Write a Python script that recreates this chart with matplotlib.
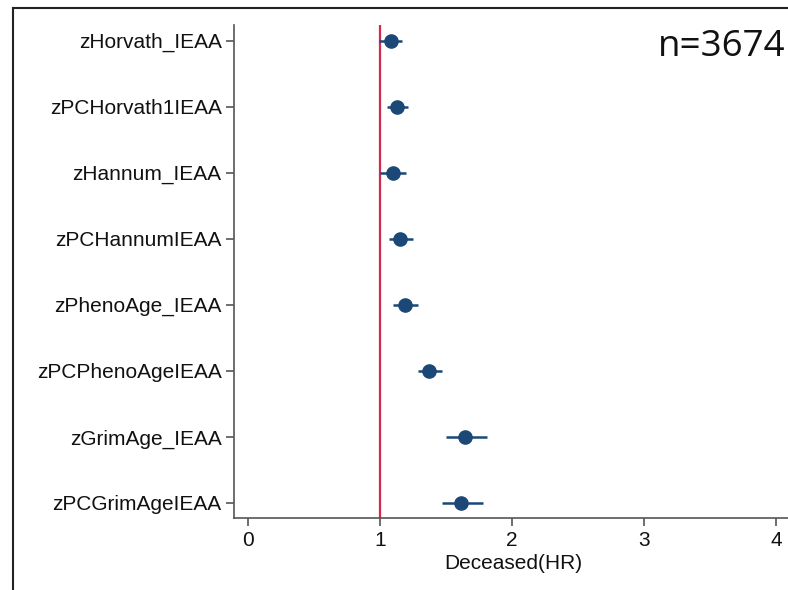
import matplotlib.pyplot as plt
from matplotlib.lines import Line2D

# hazard ratios per epigenetic clock (IEAA, z-scored)
labels = ['zHorvath_IEAA', 'zPCHorvath1IEAA', 'zHannum_IEAA', 'zPCHannumIEAA',
          'zPhenoAge_IEAA', 'zPCPhenoAgeIEAA', 'zGrimAge_IEAA', 'zPCGrimAgeIEAA']
hr = [1.08, 1.13, 1.10, 1.15, 1.19, 1.37, 1.64, 1.61]
ci_low = [0.99, 1.05, 1.00, 1.07, 1.10, 1.29, 1.50, 1.47]
ci_high = [1.17, 1.21, 1.20, 1.25, 1.29, 1.47, 1.81, 1.78]
xticks = [0, 1, 2, 3, 4]

NAVY = '#1b4876'
RED = '#d7274f'
FONT = ['Liberation Sans', 'DejaVu Sans']
FS = 15

fig = plt.figure(figsize=(7.88, 5.90), dpi=100)
ax = fig.add_axes([0.297, 0.122, 0.708, 0.836])

pos = list(range(1, len(labels) + 1))
ax.axvline(1, color=RED, lw=1.6, zorder=1)
ax.hlines(pos, ci_low, ci_high, color=NAVY, lw=1.8, zorder=2)
ax.plot(hr, pos, 'o', color=NAVY, ms=9.5, zorder=3)

ax.set_ylim(8.23, 0.76)
ax.set_xlim(-0.106, 4.12)
ax.set_yticks(pos)
ax.set_yticklabels(labels, family=FONT, fontsize=FS, color='#111111')
ax.set_xticks(xticks)
ax.set_xticklabels([str(t) for t in xticks], family=FONT, fontsize=FS,
                   color='#111111')
ax.set_xlabel('Deceased(HR)', family=FONT, fontsize=FS, color='#111111',
              labelpad=3)

for side in ['top', 'right']:
    ax.spines[side].set_visible(False)
for side in ['left', 'bottom']:
    ax.spines[side].set_color('#555555')
    ax.spines[side].set_linewidth(1.2)
ax.tick_params(axis='both', length=6, width=1.2, color='#555555', pad=3)

# sample size note
fig.text(0.997, 0.921, 'n=3674', ha='right', va='center', fontsize=26.5,
         family=['Open Sans', 'DejaVu Sans'], color='#111111')

# outer frame around the panel
fig.add_artist(Line2D([13 / 788, 1.0], [1 - 8 / 590, 1 - 8 / 590],
                      transform=fig.transFigure, color='#222222', lw=1.5))
fig.add_artist(Line2D([13 / 788, 13 / 788], [0.0, 1 - 8 / 590],
                      transform=fig.transFigure, color='#222222', lw=1.5))

fig.savefig('out.png', dpi=100)
